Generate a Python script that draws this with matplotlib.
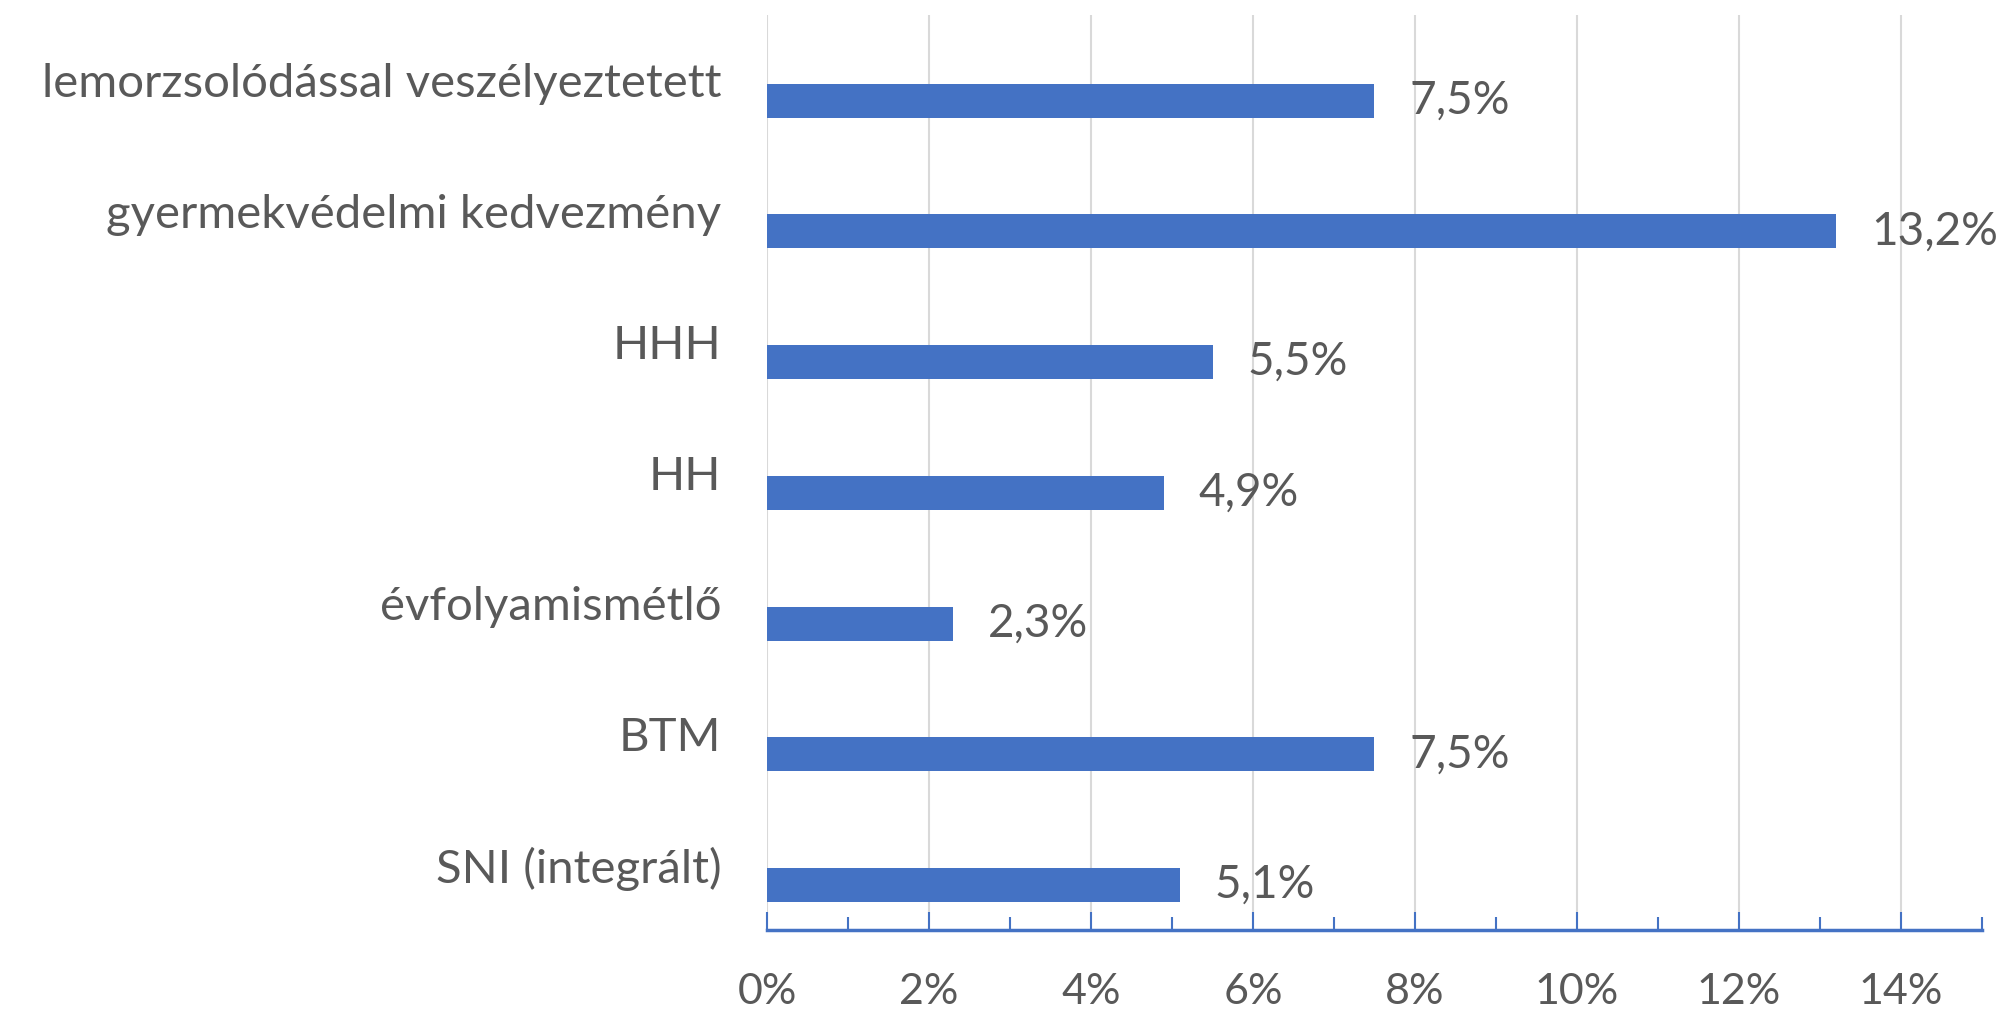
import matplotlib.pyplot as plt
from matplotlib.ticker import MultipleLocator, FuncFormatter

# categories from bottom to top
categories = ["SNI (integrált)", "BTM", "évfolyamismétlő", "HH", "HHH",
              "gyermekvédelmi kedvezmény", "lemorzsolódással veszélyeztetett"]
values = [5.1, 7.5, 2.3, 4.9, 5.5, 13.2, 7.5]

bar_color = "#4472C4"
text_color = "#595959"

plt.rcParams['font.family'] = ['Lato', 'DejaVu Sans']

fig = plt.figure(figsize=(20.07, 10.15), dpi=100)
ax = fig.add_axes([0.3822, 0.0837, 0.6053, 0.9015])

pos = list(range(len(categories)))
# bars sit a little below the category centre (Excel style)
bar_pos = [p - 0.155 for p in pos]
bars = ax.barh(bar_pos, values, height=0.26, color=bar_color, zorder=3)

for b, v in zip(bars, values):
    ax.annotate(f"{v:.1f}%".replace(".", ","),
                (b.get_width(), b.get_y() + b.get_height() / 2),
                xytext=(25, 0), textcoords="offset points",
                va="center", ha="left", fontsize=33, color=text_color)

ax.set_xlim(0, 15)
ax.set_ylim(-0.5, len(categories) - 0.5)
ax.set_yticks(pos)
ax.set_yticklabels(categories)
ax.xaxis.set_major_locator(MultipleLocator(2))
ax.xaxis.set_minor_locator(MultipleLocator(1))
ax.xaxis.set_major_formatter(FuncFormatter(lambda x, _: f"{x:.0f}%"))

ax.tick_params(axis="y", length=0, pad=33, labelsize=34, labelcolor=text_color)
ax.tick_params(axis="x", which="major", direction="in", length=13, width=1.5,
               color=bar_color, pad=31, labelsize=31, labelcolor=text_color)
ax.tick_params(axis="x", which="minor", direction="in", length=9.5, width=1.5,
               color=bar_color)

ax.grid(axis="x", which="major", color="#D9D9D9", linewidth=1.5, zorder=0)
for s in ["top", "right", "left"]:
    ax.spines[s].set_visible(False)
ax.spines["bottom"].set_color(bar_color)
ax.spines["bottom"].set_linewidth(2.5)

fig.savefig("out.png", dpi=100)
